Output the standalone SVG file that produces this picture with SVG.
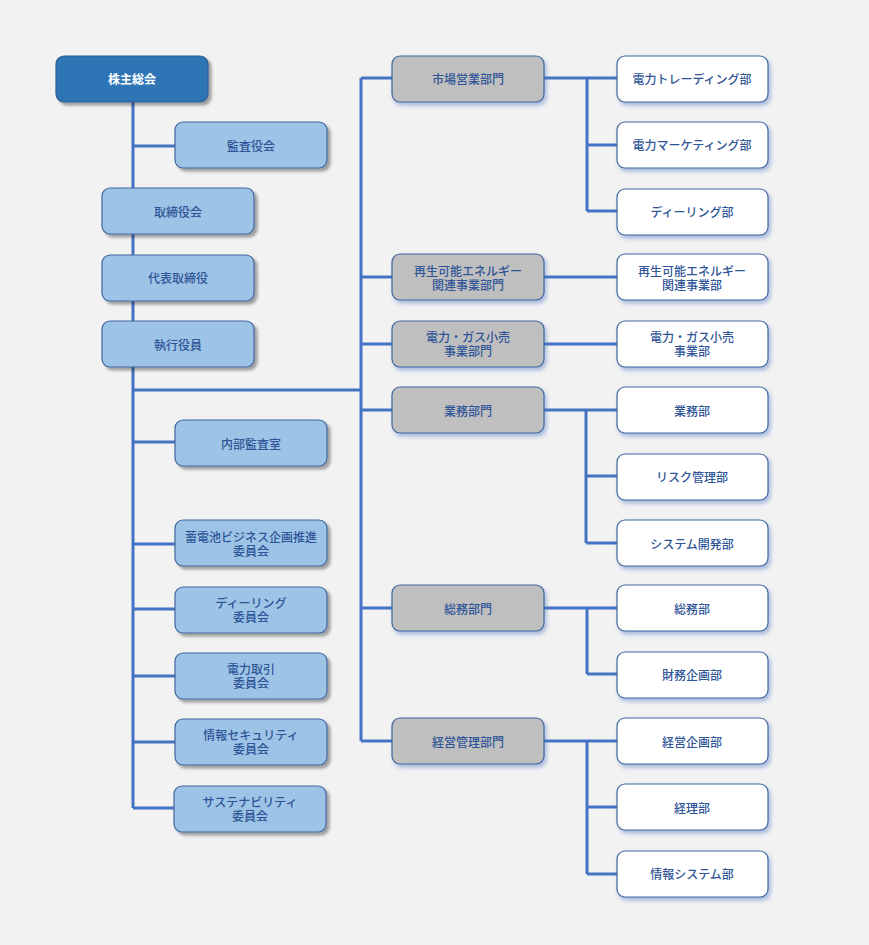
<svg xmlns="http://www.w3.org/2000/svg" width="869" height="945" viewBox="0 0 869 945">
<style>
.bg{fill:#F2F2F2}
.n rect{stroke:#41669E;stroke-width:1.2}
.top rect{fill:#2E75B6;stroke:#2F5C94}
.lb rect{fill:#9DC3E6}
.gr rect{fill:#BFBFBF}
.wh rect{fill:#FFFFFF}
.n text{font-family:"Liberation Sans","Noto Sans CJK JP",sans-serif;font-size:12px;fill:#2F5597;text-anchor:middle;dominant-baseline:central;font-weight:500;transform:translateY(1.5px)}
.top text{fill:#FFFFFF;font-weight:bold}
.c path{fill:none;stroke:#4472C4;stroke-width:3}
</style>
<defs>
<filter id="sh" x="-20%" y="-30%" width="140%" height="170%">
<feDropShadow dx="3" dy="3" stdDeviation="1.5" flood-color="#000" flood-opacity="0.35"/>
</filter>
<filter id="shb" x="-20%" y="-30%" width="140%" height="170%">
<feDropShadow dx="2" dy="3" stdDeviation="2" flood-color="#4472C4" flood-opacity="0.45"/>
</filter>
</defs>
<rect class="bg" x="0" y="0" width="869" height="945"/>
<g class="c">
<path d="M133 102V808"/>
<path d="M133 146H175"/>
<path d="M133 390H361"/>
<path d="M133 442H175M133 544H175M133 609H175M133 676H175M133 742H175M133 808H174"/>
<path d="M361 78V741"/>
<path d="M361 78H392M361 277H392M361 344H392M361 410H392M361 608H392M361 741H392"/>
<path d="M544 78H617M587 78V211M587 145H617M587 211H617"/>
<path d="M544 277H617M544 344H617"/>
<path d="M544 410H617M586 410V543M586 476H617M586 543H617"/>
<path d="M544 608H617M587 608V674M587 674H617"/>
<path d="M544 741H617M587 741V874M587 807H617M587 874H617"/>
</g>
<g id="n-kabunushi" class="n top"><rect x="56" y="56" width="152" height="46" rx="8" filter="url(#sh)"/><text x="132" y="78">株主総会</text></g>
<g id="n-kansayaku" class="n lb"><rect x="175" y="122" width="152" height="46" rx="8" filter="url(#sh)"/><text x="251" y="145">監査役会</text></g>
<g id="n-torishimariyaku" class="n lb"><rect x="102" y="188" width="152" height="46" rx="8" filter="url(#sh)"/><text x="178" y="211">取締役会</text></g>
<g id="n-daihyo" class="n lb"><rect x="102" y="255" width="152" height="46" rx="8" filter="url(#sh)"/><text x="178" y="277">代表取締役</text></g>
<g id="n-shikko" class="n lb"><rect x="102" y="321" width="152" height="46" rx="8" filter="url(#sh)"/><text x="178" y="344">執行役員</text></g>
<g id="n-naibu" class="n lb"><rect x="175" y="420" width="152" height="46" rx="8" filter="url(#sh)"/><text x="251" y="443">内部監査室</text></g>
<g id="n-chikuden" class="n lb"><rect x="175" y="520" width="152" height="46" rx="8" filter="url(#sh)"/><text x="251" y="536">蓄電池ビジネス企画推進<tspan x="251" dy="14">委員会</tspan></text></g>
<g id="n-dealing-iin" class="n lb"><rect x="175" y="587" width="152" height="46" rx="8" filter="url(#sh)"/><text x="251" y="602">ディーリング<tspan x="251" dy="14">委員会</tspan></text></g>
<g id="n-denryoku-torihiki" class="n lb"><rect x="175" y="653" width="152" height="46" rx="8" filter="url(#sh)"/><text x="251" y="668">電力取引<tspan x="251" dy="14">委員会</tspan></text></g>
<g id="n-security" class="n lb"><rect x="175" y="719" width="152" height="46" rx="8" filter="url(#sh)"/><text x="251" y="734">情報セキュリティ<tspan x="251" dy="14">委員会</tspan></text></g>
<g id="n-sustain" class="n lb"><rect x="174" y="786" width="152" height="46" rx="8" filter="url(#sh)"/><text x="250" y="801">サステナビリティ<tspan x="250" dy="14">委員会</tspan></text></g>
<g id="n-shijo" class="n gr"><rect x="392" y="56" width="152" height="46" rx="8" filter="url(#shb)"/><text x="468" y="78">市場営業部門</text></g>
<g id="n-saisei-bumon" class="n gr"><rect x="392" y="254" width="152" height="46" rx="8" filter="url(#shb)"/><text x="468" y="270">再生可能エネルギー<tspan x="468" dy="14">関連事業部門</tspan></text></g>
<g id="n-gas-bumon" class="n gr"><rect x="392" y="321" width="152" height="46" rx="8" filter="url(#shb)"/><text x="468" y="336">電力・ガス小売<tspan x="468" dy="14">事業部門</tspan></text></g>
<g id="n-gyomu-bumon" class="n gr"><rect x="392" y="387" width="152" height="46" rx="8" filter="url(#shb)"/><text x="468" y="410">業務部門</text></g>
<g id="n-somu-bumon" class="n gr"><rect x="392" y="585" width="152" height="46" rx="8" filter="url(#shb)"/><text x="468" y="608">総務部門</text></g>
<g id="n-keiei-bumon" class="n gr"><rect x="392" y="718" width="152" height="46" rx="8" filter="url(#shb)"/><text x="468" y="741">経営管理部門</text></g>
<g id="n-trading" class="n wh"><rect x="617" y="56" width="151" height="46" rx="8" filter="url(#shb)"/><text x="692" y="78">電力トレーディング部</text></g>
<g id="n-marketing" class="n wh"><rect x="617" y="122" width="151" height="46" rx="8" filter="url(#shb)"/><text x="692" y="144">電力マーケティング部</text></g>
<g id="n-dealing" class="n wh"><rect x="617" y="189" width="151" height="46" rx="8" filter="url(#shb)"/><text x="692" y="211">ディーリング部</text></g>
<g id="n-saisei" class="n wh"><rect x="617" y="254" width="151" height="46" rx="8" filter="url(#shb)"/><text x="692" y="270">再生可能エネルギー<tspan x="692" dy="14">関連事業部</tspan></text></g>
<g id="n-gas" class="n wh"><rect x="617" y="321" width="151" height="46" rx="8" filter="url(#shb)"/><text x="692" y="336">電力・ガス小売<tspan x="692" dy="14">事業部</tspan></text></g>
<g id="n-gyomu" class="n wh"><rect x="617" y="387" width="151" height="46" rx="8" filter="url(#shb)"/><text x="692" y="410">業務部</text></g>
<g id="n-risk" class="n wh"><rect x="617" y="454" width="151" height="46" rx="8" filter="url(#shb)"/><text x="692" y="476">リスク管理部</text></g>
<g id="n-system" class="n wh"><rect x="617" y="520" width="151" height="46" rx="8" filter="url(#shb)"/><text x="692" y="543">システム開発部</text></g>
<g id="n-somu" class="n wh"><rect x="617" y="585" width="151" height="46" rx="8" filter="url(#shb)"/><text x="692" y="608">総務部</text></g>
<g id="n-zaimu" class="n wh"><rect x="617" y="652" width="151" height="46" rx="8" filter="url(#shb)"/><text x="692" y="674">財務企画部</text></g>
<g id="n-keiei-kikaku" class="n wh"><rect x="617" y="718" width="151" height="46" rx="8" filter="url(#shb)"/><text x="692" y="741">経営企画部</text></g>
<g id="n-keiri" class="n wh"><rect x="617" y="784" width="151" height="46" rx="8" filter="url(#shb)"/><text x="692" y="807">経理部</text></g>
<g id="n-joho-system" class="n wh"><rect x="617" y="851" width="151" height="46" rx="8" filter="url(#shb)"/><text x="692" y="873">情報システム部</text></g>
</svg>
